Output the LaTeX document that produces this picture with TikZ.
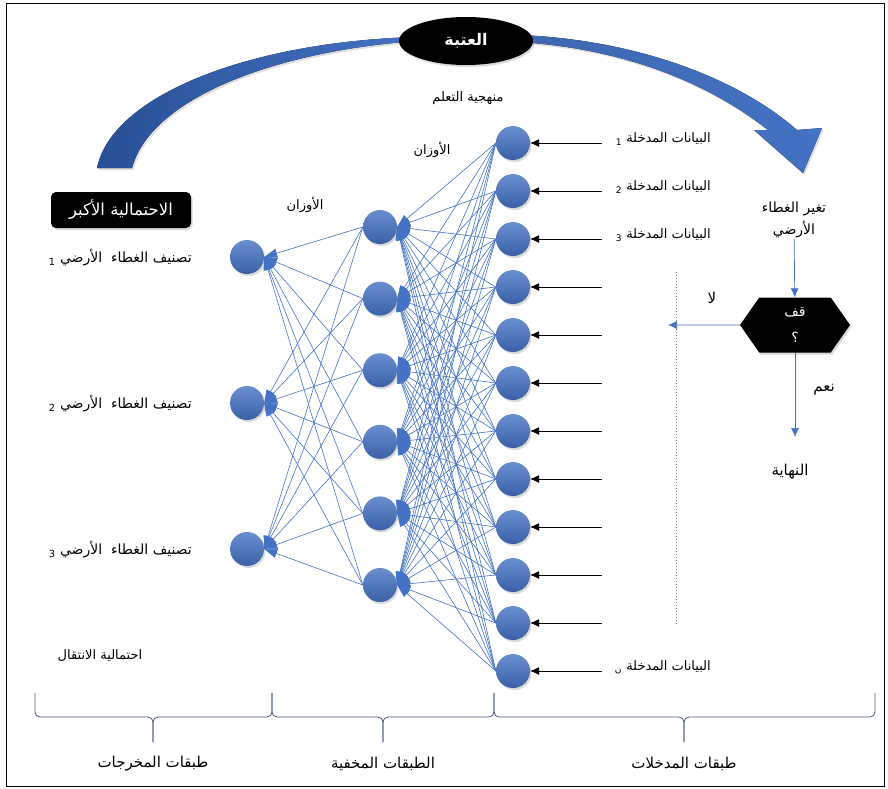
\documentclass[tikz,border=0pt]{standalone}
\usepackage{fontspec}
\newfontfamily\arabicfont[Script=Arabic]{DejaVu Sans}
\TeXXeTstate=1
\usetikzlibrary{arrows.meta,shapes.geometric,shapes.symbols,shadows}
\definecolor{nnblue}{RGB}{68,114,196}
\definecolor{nnblueD}{RGB}{41,80,150}
\definecolor{braceC}{RGB}{68,84,120}

\begin{document}
\begin{tikzpicture}[x=1pt, y=-1pt,
  txt/.style={font=\arabicfont\fontsize{13}{18}\selectfont, inner sep=1pt, align=center},
  bigtxt/.style={font=\arabicfont\fontsize{15}{18}\selectfont, inner sep=1pt},
  neuron/.style={circle, minimum size=34pt, inner sep=0pt,
                 top color=nnblue!80!white, bottom color=nnblue!85!black,
                 drop shadow={opacity=0.3, shadow xshift=1.5pt, shadow yshift=-2pt}},
  wire/.style={nnblue, line width=0.6pt, -{Triangle[length=13pt, width=9pt]}},
  feed/.style={-{Latex[length=9pt, width=8pt]}, line width=0.7pt},
  flow/.style={nnblue, line width=0.7pt, -{Latex[length=9pt, width=8pt]}},
  blackbox/.style={fill=black, text=white, inner sep=2pt,
                   drop shadow={opacity=0.3, shadow xshift=1.5pt, shadow yshift=-2pt}},
  brc/.style={braceC, line width=0.8pt, rounded corners=5pt}
]
  \useasboundingbox (0,0) rectangle (888,789);
  \draw[line width=0.8pt] (6,3) rectangle (884,786);

  % threshold arc
  \fill[left color=nnblueD, right color=nnblue,
        drop shadow={opacity=0.25, shadow xshift=1.5pt, shadow yshift=-2pt}]
    (97,168) .. controls (112,95) and (250,42) .. (415,37)
    -- (415,41) .. controls (270,52) and (150,100) .. (132,168) -- cycle;
  \fill[left color=nnblue!90!black, right color=nnblue,
        drop shadow={opacity=0.25, shadow xshift=1.5pt, shadow yshift=-2pt}]
    (520,35) .. controls (640,40) and (740,80) .. (797,130)
    -- (822,128) -- (803,173) -- (754,130) -- (768,130)
    .. controls (720,92) and (640,50) .. (520,42) -- cycle;
  \node[blackbox, ellipse, minimum width=134pt, minimum height=48pt,
        font=\arabicfont\bfseries\fontsize{16}{18}\selectfont] (thr) at (466,41) {\beginR العتبة\endR};
  \node[txt] (meth) at (468,98) {\beginR منهجية التعلم\endR};
  \node[txt] (wts1) at (432,150) {\beginR الأوزان\endR};
  \node[txt] (wts2) at (305,205) {\beginR الأوزان\endR};
  \node[blackbox, rounded corners=5pt, minimum width=140pt, minimum height=36pt,
        font=\arabicfont\fontsize{16.5}{18}\selectfont] (maxp) at (121,210) {\beginR الاحتمالية الأكبر\endR};

  % layers
  \foreach \i in {1,...,12}
    \node[neuron] (in\i) at (513, {143+48*(\i-1)}) {};
  \foreach \j in {1,...,6}
    \node[neuron] (hid\j) at (380, {227+71.6*(\j-1)}) {};
  \foreach \k in {1,2,3}
    \node[neuron] (out\k) at (247, {257+146*(\k-1)}) {};
  \foreach \i in {1,...,12}
    \foreach \j in {1,...,6}
      \draw[wire] (in\i.west) -- (hid\j.east);
  \foreach \j in {1,...,6}
    \foreach \k in {1,2,3}
      \draw[wire] (hid\j.west) -- (out\k.east);

  % inputs
  \foreach \i in {1,...,12} {
    \coordinate (src\i) at (602, {143+48*(\i-1)});
    \draw[feed] (src\i) -- (in\i);
  }
  \foreach \i/\s in {1/1,2/2,3/3,12/ن}
    \node[txt, anchor=east] (inlab\i) at (712, {139+48*(\i-1)}) {\beginR البيانات المدخلة \textsubscript{\s}\endR};

  % outputs
  \foreach \k in {1,2,3}
    \node[txt, font=\arabicfont\fontsize{14}{18}\selectfont, anchor=east] (outlab\k) at (193, {258+146*(\k-1)}) {\beginR تصنيف الغطاء\ \ الأرضي \textsubscript{\k}\endR};
  \node[txt] (trans) at (100,656) {\beginR احتمالية الانتقال\endR};

  % stop test
  \node[txt, font=\arabicfont\fontsize{14}{22}\selectfont] (chg) at (794,220) {\beginR تغير الغطاء\endR\\\beginR الأرضي\endR};
  \node[blackbox, signal, signal to=west and east, signal pointer angle=110,
        minimum width=110pt, minimum height=55pt, align=center,
        font=\arabicfont\fontsize{14}{26}\selectfont] (stop) at (795,325) {\beginR قف\endR\\؟};
  \coordinate (no) at (668,325);
  \coordinate (yes) at (795,437);
  \draw[flow] (chg) -- (stop);
  \draw[flow] (stop) -- (no);
  \draw[flow] (stop) -- (yes);
  \node[bigtxt] (nolab) at (712,298) {\beginR لا\endR};
  \node[bigtxt] (yeslab) at (824,390) {\beginR نعم\endR};
  \node[bigtxt] (endlab) at (790,472) {\beginR النهاية\endR};
  \coordinate (dtop) at (676,272);
  \coordinate (dbot) at (676,625);
  \draw[gray, dotted, line width=1pt] (dtop) -- (dbot);

  % braces
  \draw[brc] (35,693) |- (153,717) -- (153,742);
  \draw[brc] (272,693) |- (153,717) -- (153,742);
  \draw[brc] (272,693) |- (383,717) -- (383,742);
  \draw[brc] (494,693) |- (383,717) -- (383,742);
  \draw[brc] (494,693) |- (684,717) -- (684,742);
  \draw[brc] (875,693) |- (684,717) -- (684,742);
  \node[bigtxt] (outL) at (153,764) {\beginR طبقات المخرجات\endR};
  \node[bigtxt] (hidL) at (383,764) {\beginR الطبقات المخفية\endR};
  \node[bigtxt] (inL) at (684,764) {\beginR طبقات المدخلات\endR};
\end{tikzpicture}
\end{document}
